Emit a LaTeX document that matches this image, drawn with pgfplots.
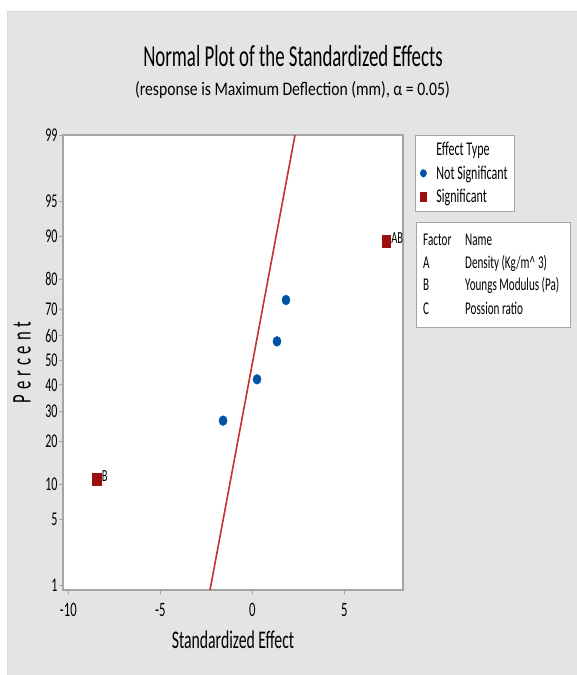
\documentclass[border=0pt]{standalone}
\usepackage{pgfplots}
\pgfplotsset{compat=1.18}
\usepackage{fontspec}
\setmainfont{Carlito}
\newfontfamily\cn[FakeStretch=0.62]{Carlito}
\newfontfamily\cs[FakeStretch=0.82]{Carlito}
\definecolor{panel}{RGB}{228,228,228}
\definecolor{mblue}{RGB}{0,84,166}
\definecolor{mred}{RGB}{155,15,15}
\definecolor{mline}{RGB}{195,50,50}
\definecolor{frame}{RGB}{165,165,165}

\pgfplotstableread{
x y
-1.59 -0.6245
0.255 -0.1965
1.34 0.1965
1.83 0.6245
}\notsig
\pgfplotstableread{
x y lab
-8.46 -1.2306 B
7.27 1.2306 AB
}\sig

\begin{document}
\begin{tikzpicture}
\path[use as bounding box] (0,0) rectangle (577bp,-675bp);
\clip (0,0) rectangle (577bp,-675bp);
\fill[white] (0,0) rectangle (577bp,-675bp);
\filldraw[fill=panel, draw=gray!30, line width=1bp] (7.5bp,-11.5bp) rectangle (580bp,-680bp);
\node[font=\cn\fontsize{30.5}{30}\selectfont, anchor=base, inner sep=0pt] at (293bp,-66bp) {Normal Plot of the Standardized Effects};
\node[font=\cs\fontsize{19.2}{19}\selectfont, anchor=base, inner sep=0pt] at (292.5bp,-95bp) {(response is Maximum Deflection (mm), α = 0.05)};
\node[font=\cn\fontsize{27}{27}\selectfont, anchor=base, rotate=90, inner sep=0pt] at (30.7bp,-362.5bp) {P\hspace{4.9bp}e\hspace{4.9bp}r\hspace{4.9bp}c\hspace{4.9bp}e\hspace{4.9bp}n\hspace{4.9bp}t};
\node[font=\cn\fontsize{25.5}{25}\selectfont, anchor=base, inner sep=0pt] at (233bp,-648bp) {Standardized Effect};

\begin{axis}[at={(63bp,-590bp)}, anchor=south west, scale only axis,
  width=340bp, height=455bp,
  xmin=-10.29, xmax=8.19, ymin=-2.378, ymax=2.333,
  axis background/.style={fill=white},
  axis line style={draw=frame, line width=1.5bp},
  tick align=outside, xtick pos=bottom, ytick pos=left,
  major tick length=4bp,
  every tick/.style={draw=frame, line width=0.8bp},
  xtick={-10,-5,0,5}, xticklabels={-10,-5,0,5},
  ytick={-2.3263,-1.6449,-1.2816,-0.8416,-0.5244,-0.2533,0,0.2533,0.5244,0.8416,1.2816,1.6449,2.3263},
  yticklabels={1,5,10,20,30,40,50,60,70,80,90,95,99},
  xticklabel style={font=\cn\fontsize{20.5}{20}\selectfont, yshift=-6bp},
  yticklabel style={font=\cn\fontsize{19.5}{19}\selectfont, xshift=2bp},
  legend style={at={(1.0353,1)}, anchor=north west, draw=frame, fill=white, line width=0.8bp,
    font=\cn\fontsize{19.5}{19}\selectfont, inner xsep=5bp, inner ysep=5bp, row sep=4.5bp,
    /tikz/every odd column/.append style={column sep=8bp}},
  legend cell align=left,
  legend image code/.code={\draw[#1] plot coordinates {(2bp,0bp)};},
  legend image post style={mark size=3bp},
]
\addlegendimage{empty legend}
\addplot[only marks, mark=*, mark size=4.1bp, mark options={fill=mblue, draw=mblue, yscale=1.2}] table[x=x, y=y] {\notsig};
\addplot[only marks, mark=square*, mark size=4.1bp, mark options={fill=mred, draw=mred, yscale=1.45},
  point meta=explicit symbolic, nodes near coords,
  every node near coord/.style={anchor=west, inner sep=0pt, xshift=5bp, yshift=3bp, font=\cn\fontsize{17}{17}\selectfont, text=black}]
  table[x=x, y=y, meta=lab] {\sig};
\addplot[mline, line width=1.6bp, forget plot] coordinates {(-2.30,-2.378) (2.32,2.333)};
\legend{Effect Type, Not Significant, Significant}
\end{axis}

\filldraw[fill=white, draw=frame, line width=0.8bp] (416bp,-222bp) rectangle (570bp,-327bp);
\begin{scope}[every node/.style={anchor=base west, inner sep=0pt, font=\cn\fontsize{18}{18}\selectfont}]
\node at (423bp,-245bp) {Factor};
\node at (465bp,-245bp) {Name};
\node at (423bp,-268bp) {A};
\node at (465bp,-268bp) {Density (Kg/m\textasciicircum\,3)};
\node at (423bp,-290bp) {B};
\node at (465bp,-290bp) {Youngs Modulus (Pa)};
\node at (423bp,-314bp) {C};
\node at (465bp,-314bp) {Possion ratio};
\end{scope}
\end{tikzpicture}
\end{document}
